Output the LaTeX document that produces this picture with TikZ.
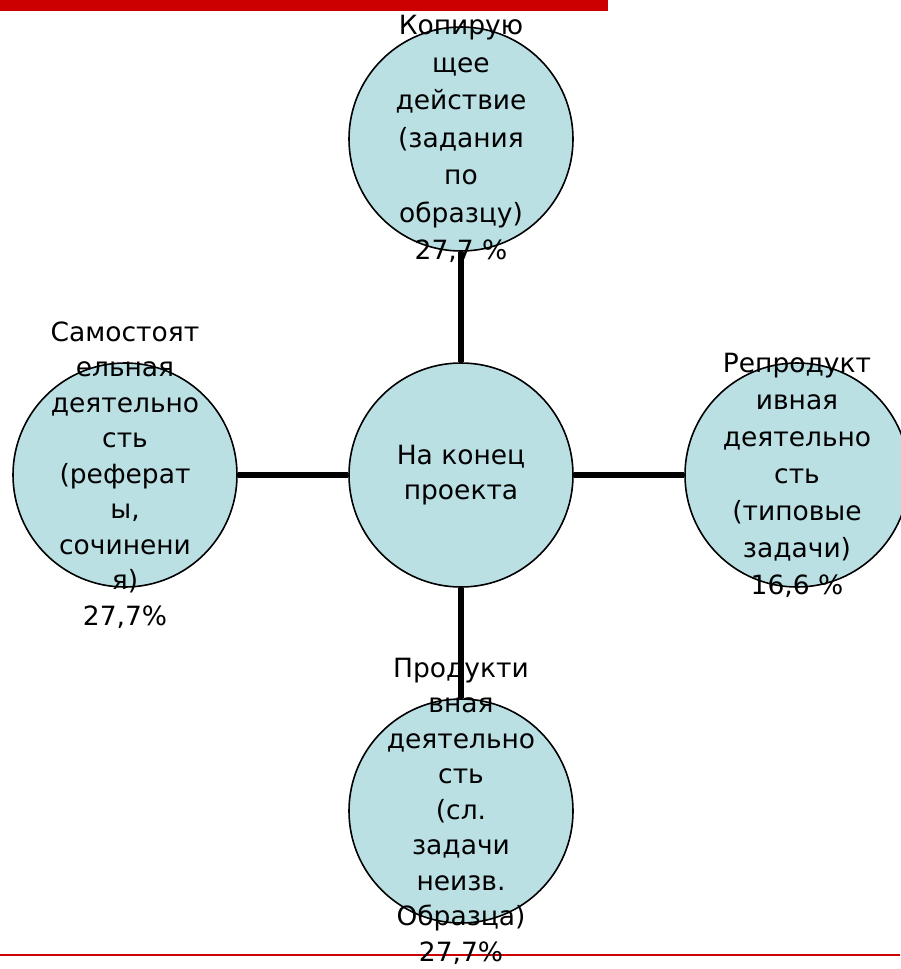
\documentclass[tikz,border=0pt]{standalone}
\usepackage{fontspec}
\setmainfont{DejaVu Sans}
\usepackage{tikz}
\usetikzlibrary{positioning}

\definecolor{stagefill}{RGB}{187,224,228}
\definecolor{slidered}{RGB}{204,0,0}

\tikzset{
	stage/.style={circle, draw=black, line width=1.6pt, fill=stagefill,
		minimum size=224pt, inner sep=0pt},
	stagetext/.style={align=center, inner sep=0pt,
		font=\fontsize{26.5}{35.5}\selectfont},
	link/.style={draw=black, line width=6.5pt}
}

\begin{document}
\begin{tikzpicture}[x=1pt,y=1pt,node distance=336pt]
	\useasboundingbox (0,0) rectangle (900,-969);
	% slide decoration
	\fill[slidered] (0,0) rectangle (608,-11);
	\draw[slidered, line width=2pt] (0,-955) -- (900,-955);

	\node[stage] (centre) at (461,-475) {};
	\node[stage] (copy) [above of = centre] {};
	\node[stage] (self) [left of = centre] {};
	\node[stage] (repro) [right of = centre] {};
	\node[stage] (prod) [below of = centre] {};

	\path[link]	(centre) edge (copy)
			(centre) edge (self)
			(centre) edge (repro)
			(centre) edge (prod);

	\node[stagetext] (centre-text) at (centre) {На конец\\проекта};
	\node[stagetext, font=\fontsize{26.5}{37.5}\selectfont] (copy-text) at (copy) {Копирую\\щее\\действие\\(задания\\по\\образцу)\\27,7 \%};
	\node[stagetext] (self-text) at (self) {Самостоят\\ельная\\деятельно\\сть\\(реферат\\ы,\\сочинени\\я)\\27,7\%};
	\node[stagetext, font=\fontsize{26.5}{37}\selectfont] (repro-text) at (repro) {Репродукт\\ивная\\деятельно\\сть\\(типовые\\задачи)\\16,6 \%};
	\node[stagetext] (prod-text) at (prod) {Продукти\\вная\\деятельно\\сть\\(сл.\\задачи\\неизв.\\Образца)\\27,7\%};
\end{tikzpicture}
\end{document}
